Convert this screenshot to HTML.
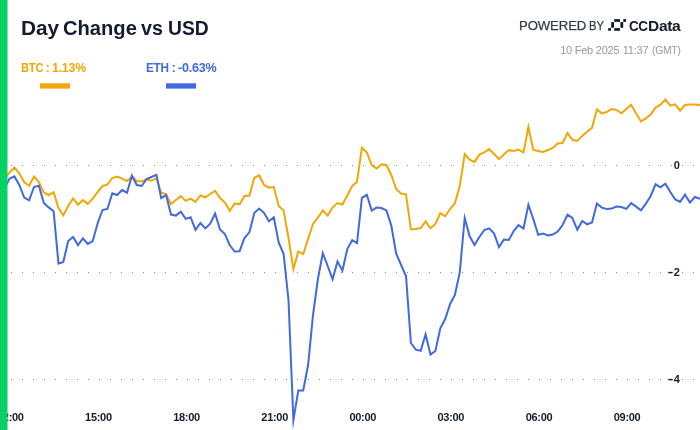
<!DOCTYPE html>
<html><head><meta charset="utf-8"><title>Day Change vs USD</title>
<style>
html,body{margin:0;padding:0;background:#fff;}
body{width:700px;height:430px;position:relative;overflow:hidden;font-family:"Liberation Sans",sans-serif;}
.bar{position:absolute;left:0;top:0;width:7.5px;height:430px;background:#0dcd60;}
.title{position:absolute;left:0;top:15.5px;font-size:19.4px;font-weight:bold;color:#131b2e;white-space:pre;line-height:24px;}
.title span{position:absolute;top:0;display:inline-block;transform-origin:0 0;}
.leg{position:absolute;left:0;top:61px;font-size:12px;font-weight:bold;white-space:pre;line-height:15px;letter-spacing:-0.25px;}
.leg span{position:absolute;top:0;display:inline-block;transform-origin:0 0;}
.lbar{position:absolute;top:83.4px;height:5.2px;width:30px;}
.pw{position:absolute;left:0;top:19px;font-size:12.5px;color:#333c4a;white-space:pre;line-height:14px;letter-spacing:-0.1px;-webkit-text-stroke:0.25px #333c4a;}
.pw span{position:absolute;top:0;display:inline-block;transform-origin:0 0;}
.cc{position:absolute;left:0;top:16.5px;font-size:14.3px;font-weight:bold;color:#131b2e;white-space:pre;line-height:18px;letter-spacing:-0.45px;}
.cc span{position:absolute;top:0;display:inline-block;transform-origin:0 0;}
.date{position:absolute;left:0;top:43px;font-size:11px;color:#999;white-space:pre;line-height:14px;letter-spacing:-0.24px;}
.date span{position:absolute;top:0;display:inline-block;transform-origin:0 0;}
svg{position:absolute;left:0;top:0;}
svg text{font-family:"Liberation Sans",sans-serif;font-weight:bold;font-size:11px;fill:#131b2e;}
</style></head><body>
<svg width="700" height="430" viewBox="0 0 700 430">
<g stroke="#8a8a8a" stroke-width="1" stroke-dasharray="1 10" fill="none">
<line x1="0" y1="165.5" x2="700" y2="165.5"/>
<line x1="0" y1="272.5" x2="700" y2="272.5"/>
<line x1="0" y1="379.5" x2="700" y2="379.5"/>
</g>
<path d="M-0.3 180.7 L4.6 178.0 L9.5 172.6 L14.4 167.6 L19.3 173.4 L24.2 182.0 L29.1 185.7 L34.0 176.5 L38.9 182.0 L43.8 192.6 L48.7 195.0 L53.6 192.3 L58.5 208.0 L63.3 215.2 L68.2 206.0 L73.1 198.4 L78.0 204.7 L82.9 200.1 L87.8 203.9 L92.7 198.6 L97.6 192.0 L102.5 186.0 L107.4 184.6 L112.3 178.0 L117.2 176.6 L122.1 178.6 L127.0 181.0 L131.9 176.7 L136.8 181.0 L141.7 181.4 L146.6 179.4 L151.5 180.6 L156.4 178.3 L161.2 192.6 L166.1 194.0 L171.0 204.2 L175.9 200.0 L180.8 196.1 L185.7 200.9 L190.6 198.6 L195.5 201.8 L200.4 195.5 L205.3 197.4 L210.2 194.0 L215.1 190.8 L220.0 198.0 L224.9 202.6 L229.8 210.8 L234.7 203.4 L239.6 204.3 L244.5 196.0 L249.4 195.6 L254.3 178.0 L259.1 175.2 L264.0 185.0 L268.9 187.6 L273.8 187.1 L278.7 206.0 L283.6 210.4 L288.5 238.0 L293.4 269.3 L298.3 251.4 L303.2 254.1 L308.1 239.0 L313.0 224.0 L317.9 217.6 L322.8 210.4 L327.7 215.6 L332.6 207.3 L337.5 203.0 L342.4 204.5 L347.3 195.5 L352.2 186.0 L357.0 182.0 L361.9 147.8 L366.8 152.4 L371.7 165.0 L376.6 168.5 L381.5 164.4 L386.4 165.0 L391.3 175.0 L396.2 189.0 L401.1 193.6 L406.0 194.4 L410.9 229.4 L415.8 229.0 L420.7 228.0 L425.6 221.4 L430.5 228.3 L435.4 224.0 L440.3 213.3 L445.2 216.2 L450.1 209.0 L454.9 203.2 L459.8 186.0 L464.7 154.0 L469.6 159.6 L474.5 161.9 L479.4 154.6 L484.3 152.4 L489.2 149.1 L494.1 154.0 L499.0 159.2 L503.9 154.6 L508.8 150.0 L513.7 151.0 L518.6 149.6 L523.5 152.5 L528.4 127.0 L533.3 150.0 L538.2 151.0 L543.1 152.0 L548.0 150.0 L552.8 148.0 L557.7 143.4 L562.6 143.0 L567.5 132.9 L572.4 139.8 L577.3 141.0 L582.2 136.0 L587.1 131.7 L592.0 127.8 L596.9 109.5 L601.8 113.4 L606.7 112.0 L611.6 109.0 L616.5 110.0 L621.4 113.3 L626.3 109.0 L631.2 104.7 L636.1 113.4 L641.0 121.4 L645.9 118.4 L650.7 114.6 L655.6 107.6 L660.5 104.6 L665.4 99.6 L670.3 105.6 L675.2 104.4 L680.1 110.7 L685.0 105.0 L689.9 104.4 L694.8 104.6 L699.7 105.0 L704.6 105.2" fill="none" stroke="#f1a706" stroke-width="2" stroke-linejoin="miter" stroke-miterlimit="10" stroke-linecap="butt"/>
<path d="M-0.3 192.7 L4.6 188.0 L9.5 178.7 L14.4 176.4 L19.3 185.0 L24.2 197.6 L29.1 200.3 L34.0 187.0 L38.9 185.8 L43.8 203.0 L48.7 207.4 L53.6 211.2 L58.5 263.7 L63.3 262.0 L68.2 241.0 L73.1 236.9 L78.0 245.1 L82.9 238.4 L87.8 243.9 L92.7 241.0 L97.6 223.5 L102.5 210.0 L107.4 209.0 L112.3 193.2 L117.2 195.0 L122.1 190.1 L127.0 192.7 L131.9 175.7 L136.8 185.0 L141.7 186.0 L146.6 179.0 L151.5 177.0 L156.4 174.9 L161.2 198.1 L166.1 195.1 L171.0 214.6 L175.9 215.6 L180.8 211.8 L185.7 218.9 L190.6 217.2 L195.5 229.8 L200.4 223.0 L205.3 228.4 L210.2 223.7 L215.1 213.5 L220.0 229.5 L224.9 234.0 L229.8 245.3 L234.7 251.5 L239.6 251.2 L244.5 238.0 L249.4 232.3 L254.3 213.0 L259.1 208.5 L264.0 212.8 L268.9 221.3 L273.8 217.3 L278.7 242.5 L283.6 254.0 L288.5 300.0 L293.4 420.2 L298.3 390.4 L303.2 390.4 L308.1 365.0 L313.0 315.0 L317.9 279.0 L322.8 253.1 L327.7 266.0 L332.6 279.2 L337.5 261.4 L342.4 270.6 L347.3 249.0 L352.2 240.2 L357.0 243.0 L361.9 197.8 L366.8 194.8 L371.7 210.6 L376.6 207.6 L381.5 208.0 L386.4 210.4 L391.3 225.5 L396.2 253.6 L401.1 265.0 L406.0 276.0 L410.9 343.0 L415.8 349.6 L420.7 350.8 L425.6 334.3 L430.5 354.5 L435.4 351.0 L440.3 328.4 L445.2 319.0 L450.1 304.0 L454.9 295.0 L459.8 272.0 L464.7 218.0 L469.6 236.0 L474.5 245.0 L479.4 237.0 L484.3 230.0 L489.2 228.4 L494.1 233.6 L499.0 247.1 L503.9 239.6 L508.8 240.0 L513.7 231.0 L518.6 225.2 L523.5 228.5 L528.4 204.7 L533.3 219.0 L538.2 234.8 L543.1 233.6 L548.0 235.4 L552.8 234.6 L557.7 231.6 L562.6 225.0 L567.5 214.7 L572.4 218.0 L577.3 229.7 L582.2 220.9 L587.1 224.4 L592.0 222.4 L596.9 203.5 L601.8 207.6 L606.7 209.0 L611.6 208.6 L616.5 206.6 L621.4 207.0 L626.3 208.9 L631.2 203.1 L636.1 206.6 L641.0 210.4 L645.9 203.6 L650.7 196.0 L655.6 184.3 L660.5 187.3 L665.4 183.7 L670.3 192.0 L675.2 199.4 L680.1 201.9 L685.0 194.6 L689.9 202.6 L694.8 197.0 L699.7 198.6 L704.6 197.0" fill="none" stroke="#4169e1" stroke-width="2" stroke-linejoin="miter" stroke-miterlimit="10" stroke-linecap="butt"/>
<g>
<text x="673.7" y="169.2">0</text>
<text><tspan x="667.4" y="277.6" font-size="18" font-weight="normal">-</tspan><tspan x="673.7" y="276.1">2</tspan></text>
<text><tspan x="667.4" y="384.6" font-size="18" font-weight="normal">-</tspan><tspan x="673.7" y="383.1">4</tspan></text>
</g>
<g text-anchor="middle" letter-spacing="-0.3">
<text x="10.31" y="421">12:00</text>
<text x="98.42" y="421">15:00</text>
<text x="186.53" y="421">18:00</text>
<text x="274.64" y="421">21:00</text>
<text x="362.75" y="421">00:00</text>
<text x="450.86" y="421">03:00</text>
<text x="538.97" y="421">06:00</text>
<text x="627.08" y="421">09:00</text>
</g>
<g fill="#131b2e">
<rect x="614.2" y="19.1" width="5.8" height="2.7"/>
<rect x="614.2" y="28.1" width="5.8" height="2.7"/>
<rect x="611.2" y="22.1" width="2.8" height="5.7"/>
<rect x="620.4" y="22.1" width="2.8" height="5.7"/>
<rect x="623.3" y="19.1" width="2.7" height="2.8"/>
<rect x="608.2" y="28.1" width="2.8" height="2.7"/>
</g>
<rect x="40" y="83.3" width="30" height="5.3" fill="#f1a706"/>
<rect x="166" y="83.3" width="30" height="5.3" fill="#4169e1"/>
<rect x="0" y="0" width="7.5" height="430" fill="#07d163"/>
</svg>
<div class="title"><span style="left:20.6px;transform:scaleX(1.072)">Day </span><span style="left:62.5px;transform:scaleX(1.039)">Change </span><span style="left:141.4px;transform:scaleX(1.015)">vs </span><span style="left:168px;transform:scaleX(0.995)">USD</span></div>
<div class="leg" style="color:#f1a706"><span style="left:20.5px;transform:scaleX(0.93)">BTC </span><span style="left:45.7px">: </span><span style="left:52.2px;transform:scaleX(1.035)">1.13%</span></div>
<div class="leg" style="color:#4169e1"><span style="left:145.8px;transform:scaleX(0.98)">ETH </span><span style="left:171.8px">: </span><span style="left:178.3px;transform:scaleX(1.05)">-0.63%</span></div>
<div class="pw"><span style="left:519.2px;transform:scaleX(1.052)">POWERED </span><span style="left:589.2px;transform:scaleX(0.9)">BY</span></div>
<div class="cc"><span style="left:628.8px;transform:scaleX(0.94)">CC</span><span style="left:647.5px;transform:scaleX(1.08)">D</span><span style="left:658.8px;transform:scaleX(1.096)">ata</span></div>
<div class="date"><span style="left:560.2px">10 Feb 2025 </span><span style="left:622.8px">11:37 </span><span style="left:651.6px;transform:scaleX(0.935)">(GMT)</span></div>
</body></html>
